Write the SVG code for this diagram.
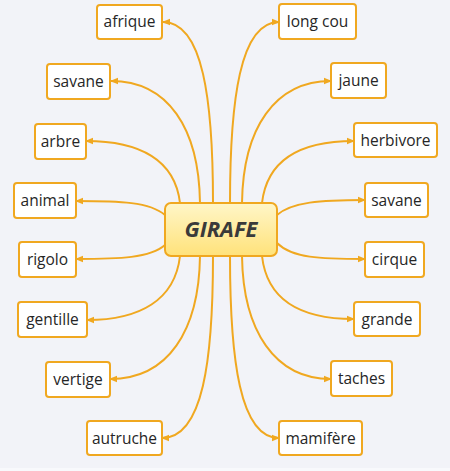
<svg xmlns="http://www.w3.org/2000/svg" width="450" height="471" viewBox="0 0 450 471">
<defs>
<linearGradient id="cg" x1="0" y1="0" x2="0" y2="1">
<stop offset="0" stop-color="#FFF6C8"/>
<stop offset="1" stop-color="#FFE27A"/>
</linearGradient>
<marker id="ah" viewBox="0 0 8 8" refX="7" refY="4" markerWidth="8" markerHeight="8" markerUnits="userSpaceOnUse" orient="auto">
<path d="M0,0.8 L8,4 L0,7.2 Z" fill="#F0A820"/>
</marker>
<style>
.n rect{fill:#FFFFFF;stroke:#F0A820;stroke-width:2}
.n text{font-family:"Open Sans","Noto Sans",sans-serif;font-size:15.5px;fill:#262626;text-anchor:middle}
#connectors path{fill:none;stroke:#F0A820;stroke-width:2;marker-end:url(#ah)}
</style>
</defs>
<rect x="0" y="0" width="450" height="471" fill="#F2F3F8"/>
<rect x="0" y="468" width="450" height="3" fill="#F8F9FC"/>
<g id="connectors">
<path d="M213,203 C213,100 203,22 163,22"/>
<path d="M200,203 C199,128 168,81 111,81"/>
<path d="M180,203 C175,160 140,141 86,141"/>
<path d="M165,215 C150,202 120,201 76,201"/>
<path d="M165,245 C150,258 120,259 76,259"/>
<path d="M180,256 C175,300 140,320 87,320"/>
<path d="M200,256 C199,331 168,379 110,379"/>
<path d="M213,256 C213,360 203,438 162,438"/>
<path d="M230,203 C230,100 240,22 279,22"/>
<path d="M242,203 C243,128 275,81 331,81"/>
<path d="M262,203 C267,160 300,141 354,141"/>
<path d="M277,215 C292,202 320,200 365,200"/>
<path d="M277,243 C292,258 320,259 365,259"/>
<path d="M262,256 C267,300 300,319 354,319"/>
<path d="M242,256 C243,331 275,379 331,379"/>
<path d="M230,256 C230,360 240,438 279,438"/>
</g>
<g id="center">
<rect x="165" y="203" width="112" height="53" rx="6" fill="url(#cg)" stroke="#F0A820" stroke-width="2"/>
<text x="221" y="237" font-family="'Open Sans','Noto Sans',sans-serif" font-size="22" font-weight="bold" font-style="italic" fill="#3A3A3A" text-anchor="middle">GIRAFE</text>
</g>
<g id="n-afrique" class="n"><rect x="97" y="5" width="65" height="34" rx="3"/><text x="129.5" y="27">afrique</text></g>
<g id="n-savane-l" class="n"><rect x="47" y="64" width="63" height="35" rx="3"/><text x="78.5" y="87">savane</text></g>
<g id="n-arbre" class="n"><rect x="35" y="124" width="51" height="35" rx="3"/><text x="60.5" y="147">arbre</text></g>
<g id="n-animal" class="n"><rect x="14" y="183" width="62" height="35" rx="3"/><text x="45" y="206">animal</text></g>
<g id="n-rigolo" class="n"><rect x="19" y="242" width="57" height="35" rx="3"/><text x="47.5" y="265">rigolo</text></g>
<g id="n-gentille" class="n"><rect x="18" y="302" width="69" height="35" rx="3"/><text x="52.5" y="325">gentille</text></g>
<g id="n-vertige" class="n"><rect x="46" y="362" width="64" height="35" rx="3"/><text x="78" y="385">vertige</text></g>
<g id="n-autruche" class="n"><rect x="87" y="421" width="75" height="34" rx="3"/><text x="124.5" y="444">autruche</text></g>
<g id="n-longcou" class="n"><rect x="279" y="4" width="77" height="35" rx="3"/><text x="317.5" y="27">long cou</text></g>
<g id="n-jaune" class="n"><rect x="331" y="63" width="55" height="35" rx="3"/><text x="358.5" y="86">jaune</text></g>
<g id="n-herbivore" class="n"><rect x="354" y="123" width="83" height="34" rx="3"/><text x="395.5" y="146">herbivore</text></g>
<g id="n-savane-r" class="n"><rect x="365" y="183" width="63" height="34" rx="3"/><text x="396.5" y="206">savane</text></g>
<g id="n-cirque" class="n"><rect x="365" y="242" width="59" height="35" rx="3"/><text x="394.5" y="265">cirque</text></g>
<g id="n-grande" class="n"><rect x="354" y="302" width="66" height="34" rx="3"/><text x="387" y="325">grande</text></g>
<g id="n-taches" class="n"><rect x="331" y="361" width="61" height="35" rx="3"/><text x="361.5" y="384">taches</text></g>
<g id="n-mamifere" class="n"><rect x="279" y="421" width="83" height="34" rx="3"/><text x="320.5" y="444">mamifère</text></g>
</svg>
